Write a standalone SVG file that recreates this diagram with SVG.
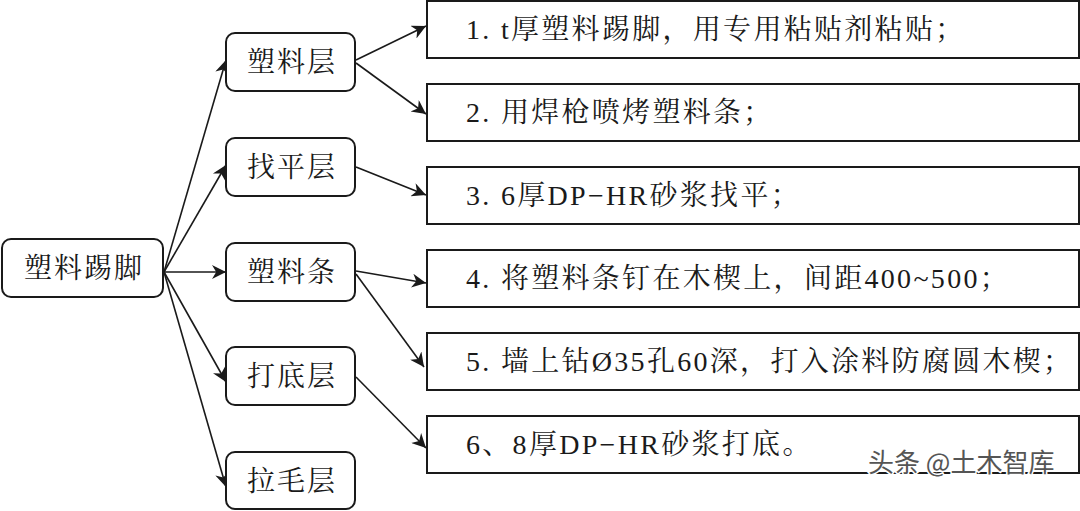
<svg xmlns="http://www.w3.org/2000/svg" width="1080" height="511" viewBox="0 0 1080 511">
<style>
.n{fill:#fff;stroke:#1a1a1a;stroke-width:2}
.t{font-family:"Liberation Serif","Noto Serif CJK SC","Noto Sans CJK SC",serif;font-size:28px;fill:#1a1a1a;letter-spacing:2px}
.r{letter-spacing:2.3px}
</style>
<defs>
<marker id="b" viewBox="0 0 10 10" refX="10" refY="5" markerWidth="18" markerHeight="14" markerUnits="userSpaceOnUse" orient="auto"><path d="M0,0L10,5L0,10L3,5z" fill="#1a1a1a"/></marker></defs>
<g id="connectors" style="marker-end:url(#b)" stroke="#1a1a1a" stroke-width="1.6" fill="none">
<path d="M164,272L226,60"/><path d="M164,272L226,165"/><path d="M164,272L226,272"/><path d="M164,272L226,382"/><path d="M164,272L226,487"/>
<path d="M356,60L426,26"/><path d="M356,63L426,114"/><path d="M356,167L426,195"/><path d="M356,271L426,283"/><path d="M356,274L424,367"/><path d="M356,377L426,448"/>
</g>
<g id="root"><rect class="n" x="2" y="239" width="161" height="58" rx="9"/><text class="t" x="84" y="278" text-anchor="middle">塑料踢脚</text></g>
<g id="m1"><rect class="n" x="226" y="33" width="129" height="58" rx="9"/><text class="t" x="292" y="72" text-anchor="middle">塑料层</text></g>
<g id="m2"><rect class="n" x="226" y="138" width="129" height="58" rx="9"/><text class="t" x="292" y="177" text-anchor="middle">找平层</text></g>
<g id="m3"><rect class="n" x="226" y="243" width="129" height="58" rx="9"/><text class="t" x="292" y="282" text-anchor="middle">塑料条</text></g>
<g id="m4"><rect class="n" x="226" y="347" width="129" height="58" rx="9"/><text class="t" x="292" y="386" text-anchor="middle">打底层</text></g>
<g id="m5"><rect class="n" x="226" y="452" width="129" height="57" rx="9"/><text class="t" x="292" y="491" text-anchor="middle">拉毛层</text></g>
<g id="r1"><rect class="n" x="427" y="1" width="652" height="57"/><text class="t r" x="466" y="39">1. t厚塑料踢脚，用专用粘贴剂粘贴；</text></g>
<g id="r2"><rect class="n" x="427" y="84" width="652" height="57"/><text class="t r" x="466" y="122">2. 用焊枪喷烤塑料条；</text></g>
<g id="r3"><rect class="n" x="427" y="167" width="652" height="57"/><text class="t r" x="466" y="205">3. 6厚DP−HR砂浆找平；</text></g>
<g id="r4"><rect class="n" x="427" y="250" width="652" height="57"/><text class="t r" x="466" y="288">4. 将塑料条钉在木楔上，间距400~500；</text></g>
<g id="r5"><rect class="n" x="427" y="333" width="652" height="57"/><text class="t r" x="466" y="371">5. 墙上钻Ø35孔60深，打入涂料防腐圆木楔；</text></g>
<g id="r6"><rect class="n" x="427" y="416" width="652" height="57"/><text class="t r" x="466" y="454">6、8厚DP−HR砂浆打底。</text></g>
<text x="868" y="472" font-family="Noto Sans CJK SC,sans-serif" font-size="26" fill="#555" stroke="#fff" stroke-width="3" paint-order="stroke">头条 @土木智库</text>
</svg>
